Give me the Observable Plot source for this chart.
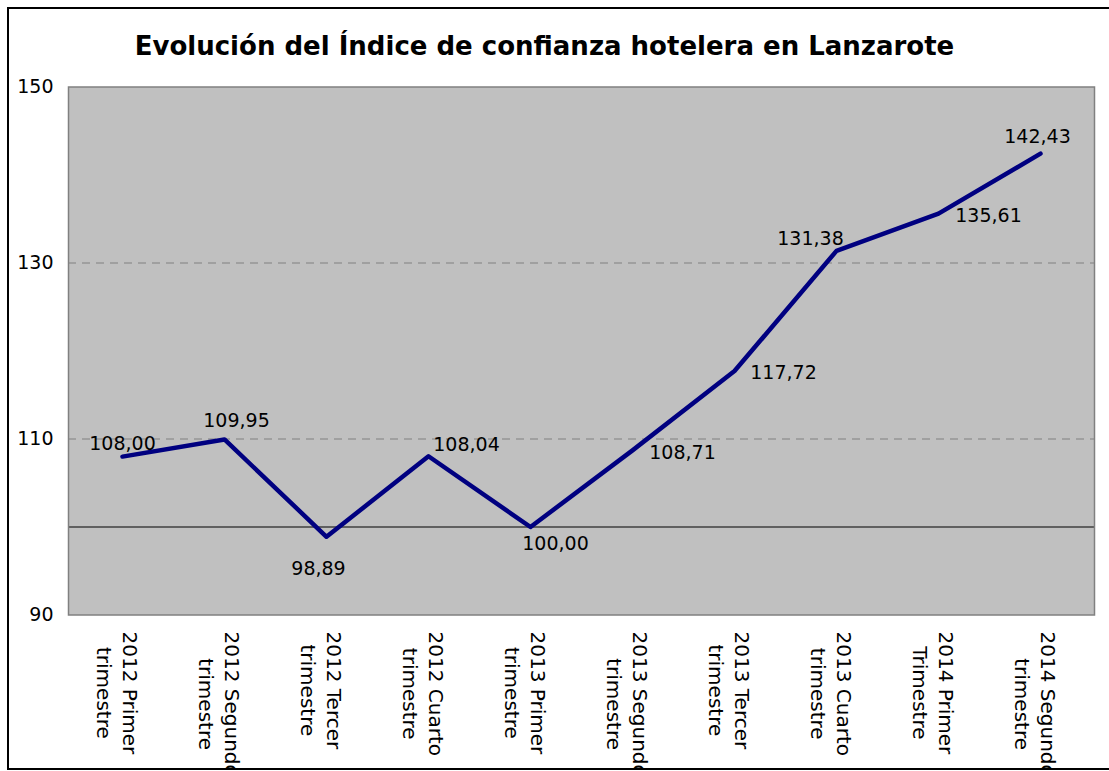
<!DOCTYPE html>
<html>
<head>
<meta charset="utf-8">
<script src="https://cdn.jsdelivr.net/npm/d3@7"></script>
<script src="https://cdn.jsdelivr.net/npm/@observablehq/plot@0.6"></script>
<style>
  html, body { margin: 0; padding: 0; background: white; overflow: hidden; }
  #frame {
    position: absolute; left: 7px; top: 7px;
    width: 1120px; height: 763px; box-sizing: border-box;
    border: 2px solid #000; overflow: hidden; background: white;
  }
  #title {
    width: 1071px; height: 61px; box-sizing: border-box;
    padding-top: 21px; line-height: 32px; text-align: center;
    font-family: "DejaVu Sans", Verdana, sans-serif; font-weight: bold; font-size: 26px;
    color: #000; white-space: nowrap;
  }
  #chart svg { display: block; }
</style>
</head>
<body>
<div id="frame">
  <div id="title">Evolución del Índice de confianza hotelera en Lanzarote</div>
  <div id="chart"></div>
</div>
<script>
const categories = [
  "2012 Primer\ntrimestre",
  "2012 Segundo\ntrimestre",
  "2012 Tercer\ntrimestre",
  "2012 Cuarto\ntrimestre",
  "2013 Primer\ntrimestre",
  "2013 Segundo\ntrimestre",
  "2013 Tercer\ntrimestre",
  "2013 Cuarto\ntrimestre",
  "2014 Primer\nTrimestre",
  "2014 Segundo\ntrimestre"
];
const values = [108.00, 109.95, 98.89, 108.04, 100.00, 108.71, 117.72, 131.38, 135.61, 142.43];
const yTicks = [90, 110, 130, 150];
const gridValues = [110, 130];
const baseValue = 100;

const rows = categories.map((c, i) => ({cat: c, value: values[i]}));
const fmt = v => v.toFixed(2).replace(".", ",");

// label placement (dx, dy) for each data label, as seen in the reference
const labelOffsets = [
  [0, -13], [12, -19], [-8, 32], [38, -11], [25, 17],
  [50, 3], [49, 2], [-26, -12], [50, 2], [-3, -17]
];

const labelMarks = labelOffsets.map(([dx, dy], i) =>
  Plot.text([rows[i]], {
    x: "cat", y: "value", text: d => fmt(d.value),
    dx, dy, fontSize: 19, fill: "#000"
  })
);

// category labels: lines centred on each other, longest line starting just below the plot
const catFontSize = 20;
const ctx = document.createElement("canvas").getContext("2d");
ctx.font = `${catFontSize}px "DejaVu Sans"`;
const catMarks = categories.map(c => {
  const w = Math.max(...c.split("\n").map(s => ctx.measureText(s).width));
  return Plot.text([c], {
    x: d => d, frameAnchor: "bottom", rotate: 90, textAnchor: "middle",
    lineAnchor: "middle", lineHeight: 1.33, dx: -4, dy: 16.5 + w / 2,
    fontSize: catFontSize, fill: "#000"
  });
});

const chart = Plot.plot({
  width: 1090,
  height: 698,
  marginLeft: 59,
  marginRight: 5,
  marginTop: 16.5,
  marginBottom: 153.5,
  style: {fontFamily: "DejaVu Sans, Verdana, sans-serif", fontSize: "19px", background: "white", color: "#000", overflow: "hidden"},
  x: {type: "point", domain: categories, padding: 0.5, axis: null},
  y: {domain: [90, 150], axis: null},
  marks: [
    Plot.frame({fill: "#c0c0c0"}),
    Plot.ruleY(gridValues, {stroke: "#808080", strokeWidth: 1, strokeDasharray: "8,6"}),
    Plot.ruleY([baseValue], {stroke: "#000", strokeWidth: 1}),
    Plot.line(rows, {x: "cat", y: "value", stroke: "#000080", strokeWidth: 4.5}),
    ...labelMarks,
    Plot.frame({stroke: "#808080", strokeWidth: 1.5}),
    Plot.axisY({ticks: yTicks, tickSize: 0, tickPadding: 15, fontSize: 19, label: null, tickFormat: d => String(d)}),
    ...catMarks
  ]
});
document.getElementById("chart").appendChild(chart);
</script>
</body>
</html>
